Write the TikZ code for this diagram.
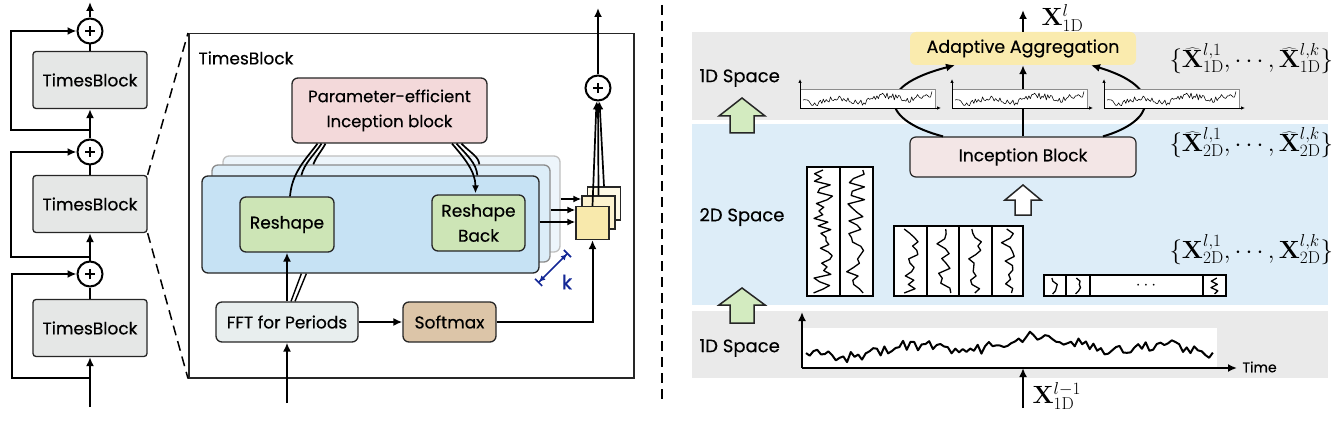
\documentclass[tikz,border=0pt]{standalone}
\usepackage[no-math]{fontspec}
\setmainfont{Poppins}[FakeBold=0.35]
\usetikzlibrary{arrows.meta,calc}
\definecolor{tbgray}{HTML}{E5E7E6}
\definecolor{pinkc}{HTML}{F3D9DA}
\definecolor{blueA}{HTML}{C6E2F4}
\definecolor{blueB}{HTML}{DCEDF8}
\definecolor{blueC}{HTML}{EDF5FB}
\definecolor{greenc}{HTML}{CDE5B6}
\definecolor{fftc}{HTML}{E8EEEE}
\definecolor{softc}{HTML}{DCC5A8}
\definecolor{yelA}{HTML}{F8E9AC}
\definecolor{yelB}{HTML}{FCF2CF}
\definecolor{yelC}{HTML}{FEF9E6}
\definecolor{adaptc}{HTML}{FAEBAE}
\definecolor{incepc}{HTML}{F3E6E6}
\definecolor{greyband}{HTML}{EAEAEA}
\definecolor{blueband}{HTML}{DDEDF8}
\definecolor{garrow}{HTML}{D3EBC0}
\definecolor{kblue}{RGB}{20,40,150}
\newcommand\miniplot[1]{%
  \fill[white] (#1,89) rectangle ({#1+135},108);
  \draw[black!45, line width=0.5pt] (#1,89) -- ({#1+135},89) -- ({#1+135},108);
  \pgfmathsetseed{11}
  \draw[line width=0.55pt, line join=round] plot[domain=0:1, samples=90] ({#1+3+129*\x}, {99 + 2.5*sin(1000*\x) + 2*sin(260*\x+30) + 3.2*rand});
  \draw[line width=0.8pt, -{Latex[length=4pt,width=3.5pt]}] (#1,108) -- (#1,79);
  \draw[line width=0.8pt, -{Latex[length=4pt,width=3.5pt]}] (#1,108) -- ({#1+141},108);
}
\newcommand\vsig[6]{%
  \pgfmathsetseed{#5}
  \draw[line width=1.3pt, line join=round] plot[domain=0:1, samples=#6] ({#1 + #4*rand}, {#2 + (#3-#2)*\x});
}
\begin{document}
\begin{tikzpicture}[x=1pt,y=-1pt,
  conn/.style={line width=2pt},
  arr/.style={line width=2pt, -{Latex[length=9pt,width=8pt]}},
  arrs/.style={line width=1.7pt, -{Latex[length=8pt,width=7pt]}},
  tbox/.style={draw=black!85, line width=1.3pt, rounded corners=3pt, fill=tbgray,
    minimum width=114pt, minimum height=57pt, inner sep=0pt, font=\fontsize{17}{20}\selectfont},
  plusc/.style={circle, draw, line width=2pt, minimum size=25pt, inner sep=0pt, fill=white,
    path picture={\draw[line width=2pt] ($(path picture bounding box.center)+(-5pt,0)$) -- ($(path picture bounding box.center)+(5pt,0)$);
      \draw[line width=2pt] ($(path picture bounding box.center)+(0,-5pt)$) -- ($(path picture bounding box.center)+(0,5pt)$);}},
  rbox/.style={draw=black!85, line width=1.3pt, rounded corners=6pt, inner sep=0pt,
    font=\fontsize{17}{25}\selectfont, align=center},
  ysq/.style={draw=black!85, line width=1.3pt, minimum size=33pt, inner sep=0pt},
  dsh/.style={line width=1.5pt, dash pattern=on 10pt off 6pt},
  mfont/.style={font=\fontsize{24}{28}\selectfont},
  blk/.style={draw=black!85, line width=1.5pt}
]
\useasboundingbox (0,0) rectangle (1340,422);

%% ---------------- left column ----------------
\node[tbox] (tb1) at (90,80) {TimesBlock};
\node[tbox] (tb2) at (90,204) {TimesBlock};
\node[tbox] (tb3) at (90,328) {TimesBlock};
\node[plusc] (p1) at (90,31) {};
\node[plusc] (p2) at (90,152) {};
\node[plusc] (p3) at (90,274) {};
\coordinate (in0) at (90,407);
\coordinate (out0) at (90,2);
\coordinate (s3) at (90,378);
\coordinate (s2) at (90,257);
\coordinate (s1) at (90,130);
\draw[arr] (in0) -- (tb3.south);
\draw[arr] (s3) -- ++(-78,0) |- (p3.west);
\draw[conn] (tb3.north) -- (p3.south);
\draw[arr] (p3.north) -- (tb2.south);
\draw[arr] (s2) -- ++(-79,0) |- (p2.west);
\draw[conn] (tb2.north) -- (p2.south);
\draw[arr] (p2.north) -- (tb1.south);
\draw[arr] (s1) -- ++(-79,0) |- (p1.west);
\draw[conn] (tb1.north) -- (p1.south);
\draw[arr] (p1.north) -- (out0);

%% ---------------- big TimesBlock ----------------
\node[draw=black!85, line width=1.5pt, minimum width=445pt, minimum height=344pt, inner sep=0pt, anchor=north west] (big) at (188,33) {};
\draw[dsh] (tb2.north east) -- (big.north west);
\draw[dsh] (tb2.south east) -- (big.south west);
\node[anchor=west, font=\fontsize{17}{20}\selectfont] (tblab) at (195,58) {TimesBlock};

\node[rbox, fill=pinkc, minimum width=195pt, minimum height=65pt, font=\fontsize{16.5}{25}\selectfont] (pink) at (389.5,110.5) {Parameter-efficient\\Inception block};

\node[rbox, draw=black!25, fill=blueC, minimum width=337pt, minimum height=96pt] (bk) at (391.5,204) {};
\node[rbox, draw=black!45, fill=blueB, minimum width=338pt, minimum height=97pt] (md) at (381,213.5) {};
\node[rbox, fill=blueA, minimum width=337pt, minimum height=97pt] (fr) at (370.5,224.5) {};

\node[rbox, fill=greenc, minimum width=94pt, minimum height=55pt] (rs) at (287,224.5) {Reshape};
\node[rbox, fill=greenc, minimum width=93pt, minimum height=56pt] (rb) at (478.5,223) {Reshape\\Back};
\node[rbox, fill=fftc, minimum width=142pt, minimum height=40pt] (fft) at (287,322) {FFT for Periods};
\node[rbox, fill=softc, minimum width=93pt, minimum height=40pt] (sm) at (449.5,322) {Softmax};

\node[ysq, fill=yelC] (ys3) at (604,203.5) {};
\node[ysq, fill=yelB] (ys2) at (598.5,212.5) {};
\node[ysq, fill=yelA] (ys1) at (592.5,223) {};
\node[plusc] (p4) at (598,88) {};

\coordinate (in1) at (287,403);
\coordinate (out1) at (598,8);
\draw[arr] (in1) -- (fft.south);
\draw[arr] (fft.north) -- (rs.south);
\draw[line width=1.4pt] ($(fft.north)+(4,0)$) -- ($(fr.south west)+(100,0)$);
\draw[line width=1.4pt] ($(fft.north)+(8,0)$) -- ($(fr.south west)+(105,0)$);
\draw[arr] (fft.east) -- (sm.west);
\draw[arr] (sm.east) -| (ys1.south);

% reshape -> inception
\draw[line width=1.7pt] ($(rs.north)+(3,0)$) .. controls +(2,-24) and +(-12,16) .. ($(pink.south)+(-72,0)$);
\draw[line width=1.7pt] ($(fr.north west)+(100,0)$) .. controls +(3,-12) and +(-8,12) .. ($(pink.south)+(-68,0)$);
\draw[line width=1.7pt] ($(md.north west)+(102,0)$) .. controls +(3,-8) and +(-5,9) .. ($(pink.south)+(-64,0)$);
% inception -> reshape back
\draw[arrs] ($(pink.south)+(62.5,0)$) .. controls +(12,14) and +(0,-22) .. ($(rb.north)+(-3,-1)$);
\draw[line width=1.7pt] ($(pink.south)+(67,0)$) .. controls +(11,12) and +(-1,-12) .. ($(fr.north west)+(276,0)$);
\draw[line width=1.7pt] ($(pink.south)+(72,0)$) .. controls +(10,10) and +(-1,-8) .. ($(md.north west)+(268,0)$);

% blue -> yellow
\draw[arrs] ($(bk.east)+(0,-5)$) -- ($(ys2.west)+(0,-13.5)$);
\draw[arrs] ($(md.east)+(0,-3.5)$) -- ($(ys1.west)+(0,-13)$);
\draw[arrs] ($(fr.east)+(0,-2.5)$) -- ($(ys1.west)+(0,-1)$);
% yellow -> plus
\draw[arrs] (ys3.north) -- ($(p4.south)+(1.5,0)$);
\draw[arrs] (ys2.north) -- (p4.south);
\draw[arrs] (ys1.north) -- ($(p4.south)+(-1.5,0)$);
\draw[arr] (p4.north) -- (out1);

% k indicator
\coordinate (k1) at (538,283);
\coordinate (k2) at (568,253);
\draw[kblue, line width=1.6pt, {Bar[width=10pt]Latex[length=6pt,width=6pt]}-{Latex[length=6pt,width=6pt]Bar[width=10pt]}] (k1) -- (k2);
\node[kblue, font=\fontsize{20}{22}\selectfont] (klab) at (567,282) {k};

%% divider
\draw[dsh] (662,5) -- (662,405);

%% ---------------- right side ----------------
\fill[greyband] (692,32) rectangle (1328,120);
\fill[blueband] (692,124) rectangle (1328,305);
\fill[greyband] (692,311) rectangle (1328,378);

\node[anchor=west, font=\fontsize{18}{20}\selectfont] (s1d) at (696,78) {1D Space};
\node[anchor=west, font=\fontsize{18}{20}\selectfont] (s2d) at (696,217) {2D Space};
\node[anchor=west, font=\fontsize{18}{20}\selectfont] (s1b) at (696,348) {1D Space};

\node[fill=adaptc, rounded corners=6pt, minimum width=226pt, minimum height=33pt, inner sep=0pt, font=\fontsize{17.5}{20}\selectfont] (agg) at (1023,48.5) {Adaptive Aggregation};
\node[rbox, line width=1.2pt, fill=incepc, minimum width=226pt, minimum height=40pt] (ib) at (1023,157) {Inception Block};

\coordinate (xo) at (1023,10);
\draw[arr] (agg.north) -- (xo);
\node[anchor=west, mfont] (xl) at (1038,18) {$\mathbf{X}^{l}_{\mathrm{1D}}$};

\draw[arr] ($(ib.north)+(-80,0)$) .. controls +(-58,-15) and +(-85,22) .. ($(agg.south)+(-68,0)$);
\draw[arr] ($(ib.north)+(80,0)$) .. controls +(52,-15) and +(74,22) .. ($(agg.south)+(68,0)$);
\draw[arr] (ib.north) -- (agg.south);

\miniplot{800}
\miniplot{952}
\miniplot{1104}

\node[anchor=west, mfont] (set1) at (1166,59) {$\{\widehat{\mathbf{X}}^{l,1}_{\mathrm{1D}},\cdots,\widehat{\mathbf{X}}^{l,k}_{\mathrm{1D}}\}$};
\node[anchor=west, mfont] (set2) at (1166,143) {$\{\widehat{\mathbf{X}}^{l,1}_{\mathrm{2D}},\cdots,\widehat{\mathbf{X}}^{l,k}_{\mathrm{2D}}\}$};
\node[anchor=west, mfont] (set3) at (1166,250) {$\{\mathbf{X}^{l,1}_{\mathrm{2D}},\cdots,\mathbf{X}^{l,k}_{\mathrm{2D}}\}$};

% block arrows
\filldraw[fill=garrow, blk] (742,98) -- (765,116) -- (754,116) -- (754,133) -- (730,133) -- (730,116) -- (719,116) -- cycle;
\filldraw[fill=garrow, blk] (742,288) -- (765,305) -- (754,305) -- (754,323) -- (730,323) -- (730,305) -- (719,305) -- cycle;
\filldraw[fill=white, blk] (1023,185) -- (1041,200) -- (1031,200) -- (1031,215) -- (1015,215) -- (1015,200) -- (1005,200) -- cycle;

% 2D matrices
\draw[fill=white, line width=1.6pt] (807,167) rectangle (873,296);
\draw[line width=1.6pt] (840,167) -- (840,296);
\vsig{823.5}{170}{293}{10}{5}{34}
\vsig{856.5}{170}{293}{10}{8}{30}
\draw[fill=white, line width=1.6pt] (894,226) rectangle (1023,296);
\draw[line width=1.6pt] (927,226) -- (927,296);
\draw[line width=1.6pt] (959,226) -- (959,296);
\draw[line width=1.6pt] (992,226) -- (992,296);
\vsig{910.5}{229}{293}{8}{21}{16}
\vsig{943}{229}{293}{8}{22}{14}
\vsig{975.5}{229}{293}{7}{23}{16}
\vsig{1007.5}{229}{293}{7}{24}{15}
\draw[fill=white, line width=1.6pt] (1044,275) rectangle (1226,296);
\draw[line width=1.6pt] (1066,275) -- (1066,296);
\draw[line width=1.6pt] (1090,275) -- (1090,296);
\draw[line width=1.6pt] (1203,275) -- (1203,296);
\vsig{1055}{278}{294}{3.5}{31}{6}
\vsig{1078}{278}{294}{3.5}{32}{6}
\vsig{1214.5}{278}{294}{3.5}{33}{6}
\node[font=\fontsize{16}{16}\selectfont] (dots) at (1146,286) {$\cdots$};

% bottom 1D plot
\fill[white] (802,328) rectangle (1217,368);
\pgfmathsetseed{3}
\draw[line width=2pt, line join=round] plot[domain=0:1, samples=110] ({806+407*\x}, {347 + 5*sin(1100*\x) + 6*sin(400*\x+40) + 5.5*rand});
\coordinate (ax0) at (802,368);
\coordinate (axy) at (802,312);
\coordinate (axx) at (1237,368);
\coordinate (axm) at (1023,368);
\coordinate (xin) at (1023,408);
\draw[arr] (ax0) -- (axy);
\draw[arr] (ax0) -- (axx);
\draw[arr] (xin) -- (axm);
\node[anchor=west, font=\fontsize{14}{16}\selectfont] (time) at (1239,367) {Time};
\node[anchor=west, mfont] (xl2) at (1029,396) {$\mathbf{X}^{l-1}_{\mathrm{1D}}$};
\end{tikzpicture}
\end{document}
